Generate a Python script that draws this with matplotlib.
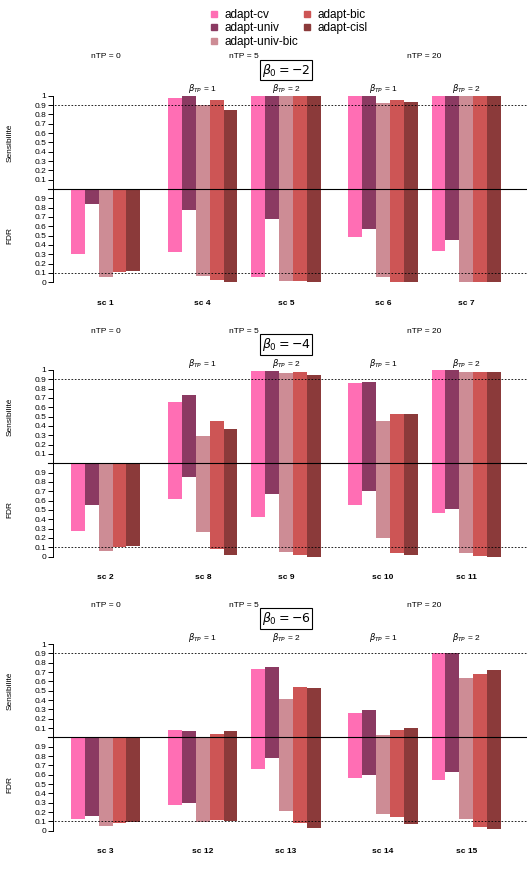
import matplotlib
matplotlib.use("Agg")
import matplotlib.pyplot as plt
from matplotlib.lines import Line2D

plt.rcParams['font.family'] = ['Liberation Sans', 'DejaVu Sans']

methods = ['adapt-cv', 'adapt-univ', 'adapt-univ-bic', 'adapt-bic', 'adapt-cisl']
colors = ['#FF6EB4', '#8B3A62', '#CD8C95', '#CD5555', '#8B3A3A']

beta0 = [-2, -4, -6]
ntp_labels = ['nTP = 0', 'nTP = 5', 'nTP = 20']
btp_labels = [1, 2, 1, 2]

sc_b2 = ['sc 1', 'sc 4', 'sc 5', 'sc 6', 'sc 7']
sens_b2 = [[0, 0, 0, 0, 0],
           [0.972, 0.995, 0.90, 0.957, 0.847],
           [1, 1, 1, 1, 1],
           [1.0, 0.995, 0.925, 0.957, 0.933],
           [1, 1, 1, 1, 1]]
fdr_b2 = [[0.304, 0.836, 0.061, 0.107, 0.125],
          [0.33, 0.78, 0.07, 0.025, 0.0],
          [0.057, 0.68, 0.014, 0.018, 0.0],
          [0.49, 0.575, 0.054, 0.007, 0.003],
          [0.336, 0.457, 0.005, 0.005, 0.0]]

sc_b4 = ['sc 2', 'sc 8', 'sc 9', 'sc 10', 'sc 11']
sens_b4 = [[0, 0, 0, 0, 0],
           [0.66, 0.73, 0.296, 0.45, 0.364],
           [0.993, 0.993, 0.968, 0.982, 0.946],
           [0.864, 0.868, 0.454, 0.53, 0.53],
           [0.995, 0.995, 0.98, 0.98, 0.98]]
fdr_b4 = [[0.275, 0.557, 0.057, 0.1, 0.11],
          [0.618, 0.85, 0.264, 0.082, 0.018],
          [0.425, 0.671, 0.043, 0.021, 0.0],
          [0.554, 0.7, 0.196, 0.036, 0.014],
          [0.464, 0.514, 0.04, 0.007, 0.0]]

sc_b6 = ['sc 3', 'sc 12', 'sc 13', 'sc 14', 'sc 15']
sens_b6 = [[0, 0, 0, 0, 0],
           [0.075, 0.068, 0.002, 0.032, 0.064],
           [0.736, 0.75, 0.414, 0.536, 0.529],
           [0.264, 0.296, 0.021, 0.075, 0.1],
           [0.9, 0.9, 0.632, 0.68, 0.721]]
fdr_b6 = [[0.121, 0.154, 0.046, 0.079, 0.093],
          [0.275, 0.296, 0.096, 0.118, 0.104],
          [0.657, 0.775, 0.207, 0.082, 0.025],
          [0.564, 0.596, 0.179, 0.15, 0.068],
          [0.539, 0.625, 0.129, 0.036, 0.018]]

panels = [(sc_b2, sens_b2, fdr_b2), (sc_b4, sens_b4, fdr_b4), (sc_b6, sens_b6, fdr_b6)]

# layout (in bar-width units)
group_start = [0, 7, 13, 20, 26]
W, H = 527, 875
fig = plt.figure(figsize=(W / 100, H / 100), dpi=100)

x_left_px, bar_px, x0_px = 53, 13.87, 71
xmin = (x_left_px - x0_px) / bar_px
xmax = (W - x0_px) / bar_px

tick_pos = [-1 + i * 0.1 for i in range(10)] + [0.1 * i for i in range(1, 11)]
tick_lab = ['0'] + ['0.%d' % i for i in range(1, 10)] + ['0.%d' % i for i in range(1, 10)] + ['1']

for k, (scs, sens, fdr) in enumerate(panels):
    top_px = 95.7 + 274.2 * k
    bot_px = 282.3 + 274.2 * k
    ax = fig.add_axes([x_left_px / W, 1 - bot_px / H, (W - x_left_px) / W, (bot_px - top_px) / H])
    ax.set_xlim(xmin, xmax)
    ax.set_ylim(-1, 1)
    for g, start in enumerate(group_start):
        for m in range(5):
            x = start + m + 0.5
            ax.bar(x, sens[g][m], width=1, bottom=0, color=colors[m])
            ax.bar(x, fdr[g][m] - 1, width=1, bottom=0, color=colors[m])
        ax.text(start + 2.5, -1.225, scs[g], ha='center', va='center',
                fontsize=6, fontweight='bold', clip_on=False)
    # reference lines
    ax.plot([-1.66, xmax], [0, 0], color='black', lw=0.8, clip_on=False, zorder=5)
    ax.plot([-1.45, xmax], [0.9, 0.9], color='black', lw=0.6, ls=(0, (2, 2)), clip_on=False, zorder=5)
    ax.plot([-1.45, xmax], [-0.9, -0.9], color='black', lw=0.6, ls=(0, (2, 2)), clip_on=False, zorder=5)

    for s in ['top', 'right', 'bottom']:
        ax.spines[s].set_visible(False)
    ax.spines['left'].set_bounds(-1, 1)
    ax.spines['left'].set_linewidth(0.7)
    ax.set_xticks([])
    ax.set_yticks(tick_pos)
    ax.set_yticklabels(tick_lab)
    ax.tick_params(axis='y', labelsize=6, length=3.5, width=0.7, pad=1.5)

    ax.text(-4.4, 0.5, 'Sensibilité', rotation=90, ha='center', va='center', fontsize=6, clip_on=False)
    ax.text(-4.4, -0.5, 'FDR', rotation=90, ha='center', va='center', fontsize=6, clip_on=False)

    # header texts
    ntp_x = [2.5, 12.5, 25.5]
    for lab, x in zip(ntp_labels, ntp_x):
        ax.text(x, 1.415, lab, ha='center', va='center', fontsize=6, clip_on=False)
    ax.text(15.5, 1.275, r'$\beta_0 = %d$' % beta0[k], ha='center', va='center', fontsize=9,
            clip_on=False, bbox=dict(boxstyle='square,pad=0.15', fc='white', ec='black', lw=0.8))
    for g, b in zip(range(1, 5), btp_labels):
        ax.text(group_start[g] + 2.5, 1.072, r'$\beta_{TP}$ = %d' % b, ha='center', va='center',
                fontsize=6, clip_on=False)

handles = [Line2D([], [], marker='s', ls='none', color=c, markersize=4) for c in colors]
fig.legend(handles, methods, loc='upper left', bbox_to_anchor=(209 / W, 1 - 9 / H), ncol=2,
           frameon=False, fontsize=8.5, labelspacing=0.12, handlelength=0.8, handletextpad=0.5,
           columnspacing=0.35, borderaxespad=0, borderpad=0)

fig.savefig('out.png', dpi=100)
